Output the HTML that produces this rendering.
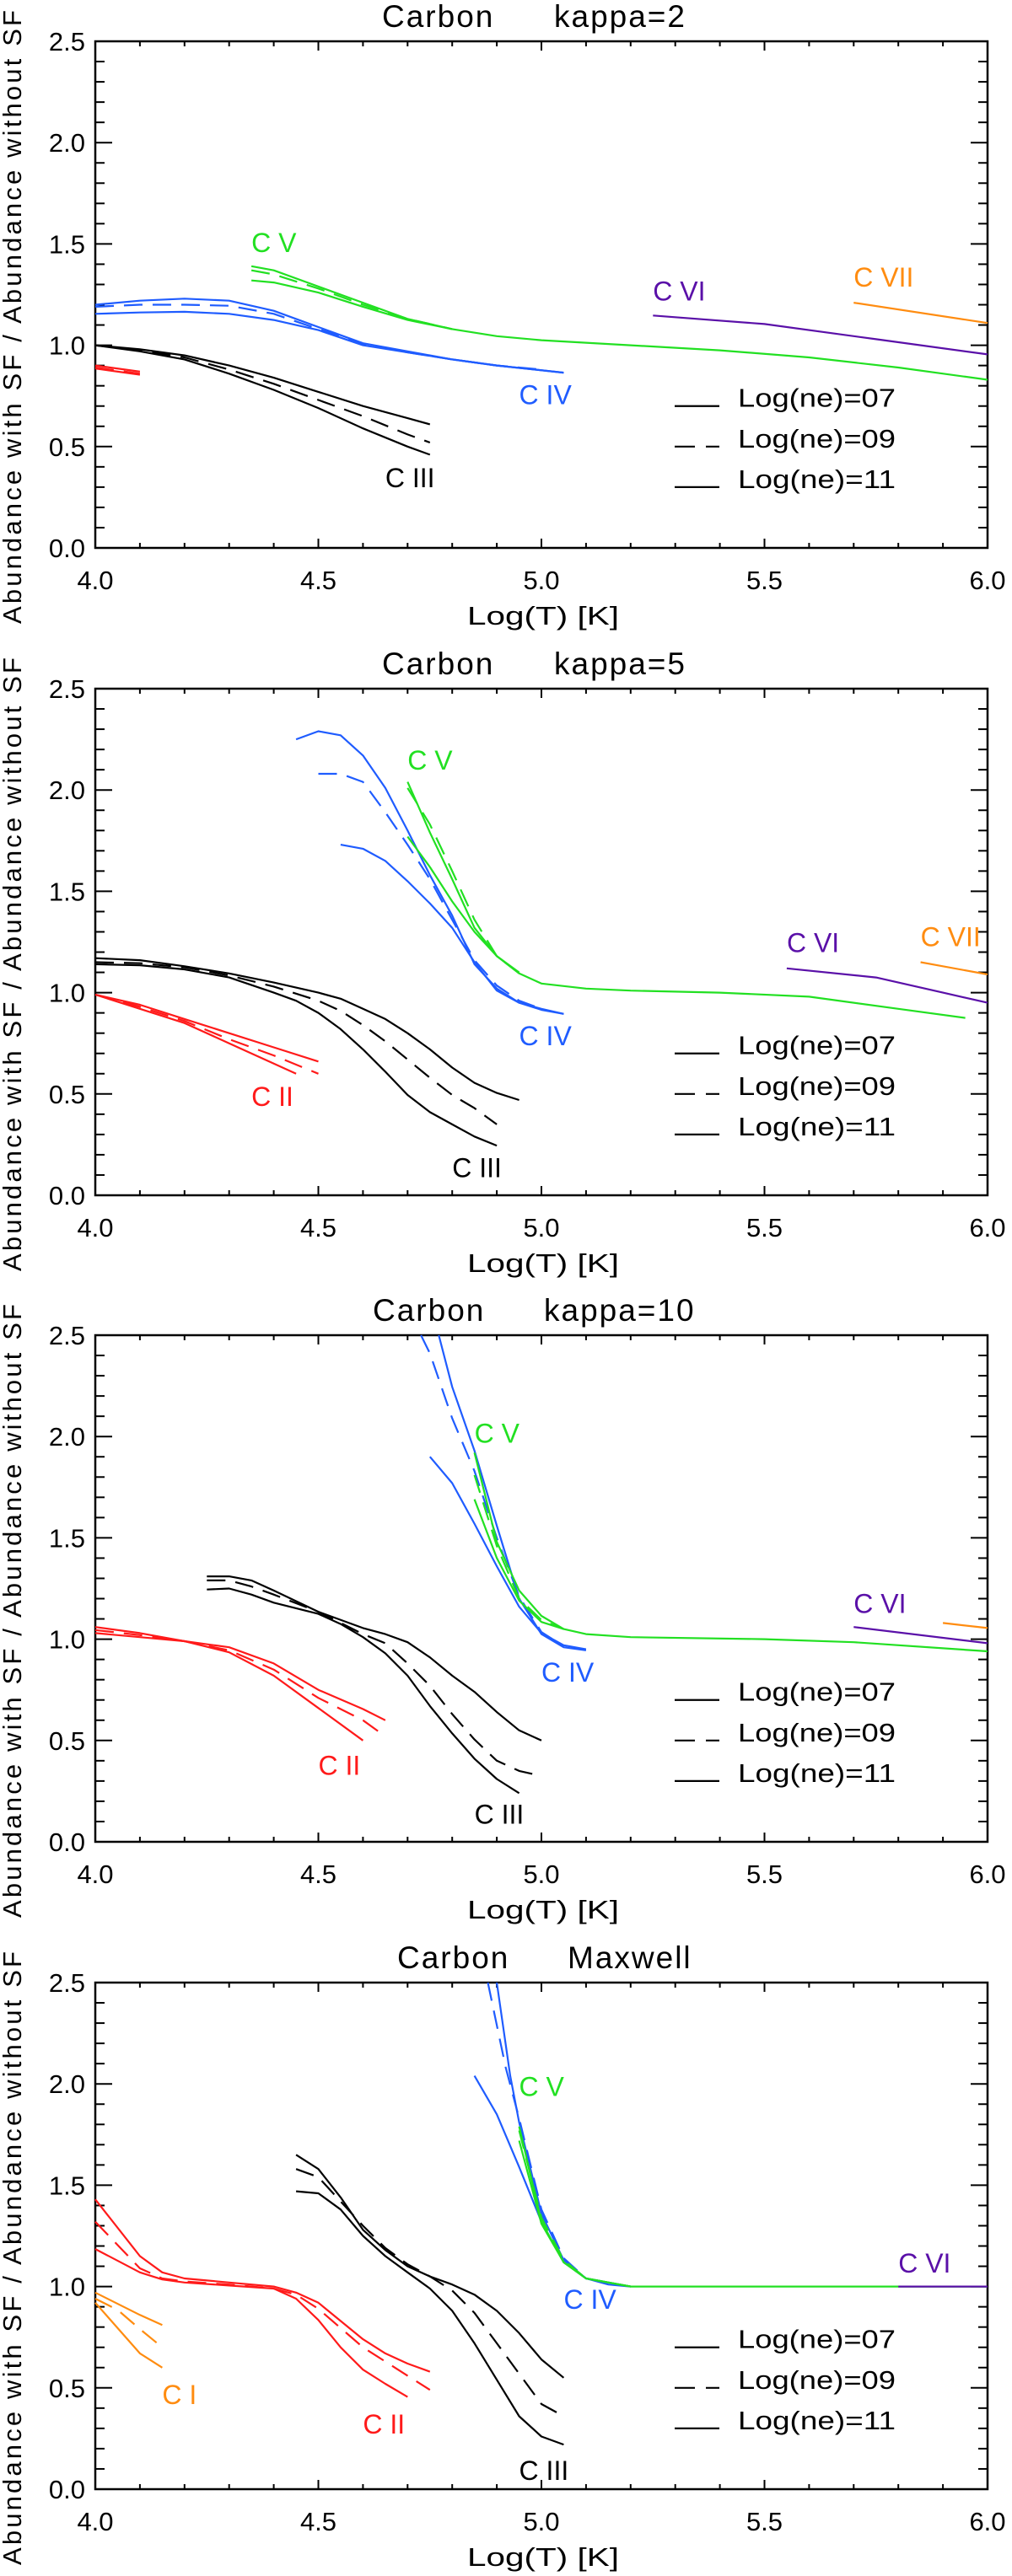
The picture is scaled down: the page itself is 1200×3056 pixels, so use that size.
<!DOCTYPE html>
<html><head><meta charset="utf-8"><title>Carbon abundance ratios</title>
<style>
html,body{margin:0;padding:0;background:#fff;}
svg{display:block;font-family:"Liberation Sans",sans-serif;}
</style></head>
<body>
<svg id="fig" width="1200" height="3056" viewBox="0 0 1200 3056" xmlns="http://www.w3.org/2000/svg"></svg>
<script>
// ---------- data (Log T, ratio) ----------
// Panel 1: kappa=2
const k2_CII_07=[[4.0,0.90],[4.1,0.87]];
const k2_CII_09=[[4.0,0.89],[4.1,0.86]];
const k2_CII_11=[[4.0,0.885],[4.1,0.855]];
const k2_CIII_07=[[4.0,1.0],[4.1,0.98],[4.2,0.95],[4.3,0.90],[4.4,0.84],[4.5,0.77],[4.6,0.70],[4.7,0.64],[4.75,0.61]];
const k2_CIII_09=[[4.0,1.0],[4.1,0.975],[4.2,0.94],[4.3,0.88],[4.4,0.81],[4.5,0.73],[4.6,0.65],[4.7,0.56],[4.75,0.52]];
const k2_CIII_11=[[4.0,1.0],[4.1,0.97],[4.2,0.93],[4.3,0.86],[4.4,0.78],[4.5,0.69],[4.6,0.59],[4.7,0.50],[4.75,0.46]];
const k2_CIV_07=[[4.0,1.20],[4.1,1.22],[4.2,1.23],[4.3,1.22],[4.4,1.17],[4.5,1.09],[4.6,1.01],[4.7,0.97],[4.8,0.93],[4.9,0.90],[5.05,0.865]];
const k2_CIV_09=[[4.0,1.19],[4.1,1.20],[4.2,1.20],[4.3,1.195],[4.4,1.155],[4.5,1.08],[4.6,1.005],[4.7,0.965],[4.8,0.93],[4.9,0.90],[5.0,0.88]];
const k2_CIV_11=[[4.0,1.155],[4.1,1.162],[4.2,1.165],[4.3,1.155],[4.4,1.125],[4.5,1.075],[4.6,1.0],[4.7,0.965],[4.8,0.93],[4.9,0.90],[5.05,0.865]];
const k2_CV_07=[[4.35,1.39],[4.4,1.37],[4.5,1.29],[4.6,1.21],[4.7,1.13],[4.8,1.08],[4.9,1.045],[5.0,1.025],[5.2,1.0],[5.4,0.975],[5.6,0.94],[5.8,0.89],[6.0,0.83]];
const k2_CV_09=[[4.35,1.37],[4.4,1.35],[4.5,1.28],[4.6,1.20],[4.7,1.13],[4.8,1.08]];
const k2_CV_11=[[4.35,1.32],[4.4,1.31],[4.5,1.26],[4.6,1.19],[4.7,1.125],[4.8,1.08]];
const k2_CVI=[[5.25,1.147],[5.5,1.105],[5.75,1.03],[6.0,0.955]];
const k2_CVII=[[5.7,1.21],[6.0,1.11]];
// Panel 2: kappa=5
const k5_CII_07=[[4.0,0.99],[4.1,0.94],[4.2,0.87],[4.3,0.80],[4.4,0.73],[4.5,0.66]];
const k5_CII_09=[[4.0,0.99],[4.1,0.93],[4.2,0.86],[4.3,0.77],[4.4,0.69],[4.5,0.60]];
const k5_CII_11=[[4.0,0.99],[4.1,0.92],[4.2,0.85],[4.3,0.75],[4.4,0.65],[4.45,0.60]];
const k5_CIII_07=[[4.0,1.17],[4.1,1.16],[4.2,1.13],[4.3,1.095],[4.4,1.05],[4.5,1.0],[4.55,0.97],[4.6,0.92],[4.65,0.87],[4.7,0.80],[4.75,0.72],[4.8,0.63],[4.85,0.555],[4.9,0.505],[4.95,0.47]];
const k5_CIII_09=[[4.0,1.15],[4.1,1.145],[4.2,1.125],[4.3,1.085],[4.4,1.03],[4.5,0.96],[4.55,0.91],[4.6,0.84],[4.65,0.76],[4.7,0.67],[4.75,0.58],[4.8,0.495],[4.85,0.43],[4.9,0.35]];
const k5_CIII_11=[[4.0,1.14],[4.1,1.135],[4.2,1.115],[4.3,1.075],[4.4,1.0],[4.45,0.96],[4.5,0.90],[4.55,0.82],[4.6,0.72],[4.65,0.61],[4.7,0.495],[4.75,0.41],[4.8,0.35],[4.85,0.29],[4.9,0.245]];
const k5_CIV_07=[[4.45,2.25],[4.5,2.29],[4.55,2.27],[4.6,2.17],[4.65,2.01],[4.7,1.80],[4.75,1.58],[4.8,1.38],[4.85,1.14],[4.9,1.02],[4.95,0.95],[5.0,0.92],[5.05,0.895]];
const k5_CIV_09=[[4.5,2.08],[4.55,2.08],[4.6,2.04],[4.65,1.89],[4.7,1.73],[4.75,1.56],[4.8,1.36],[4.85,1.16],[4.9,1.035],[4.95,0.96],[5.0,0.92]];
const k5_CIV_11=[[4.55,1.73],[4.6,1.71],[4.65,1.65],[4.7,1.55],[4.75,1.44],[4.8,1.32],[4.85,1.15],[4.9,1.01],[4.95,0.95],[5.0,0.915],[5.05,0.895]];
const k5_CV_07=[[4.7,2.04],[4.75,1.79],[4.8,1.56],[4.85,1.32],[4.9,1.18],[4.95,1.095],[5.0,1.045],[5.1,1.02],[5.2,1.01],[5.4,1.0],[5.6,0.98],[5.8,0.92],[5.95,0.875]];
const k5_CV_09=[[4.7,2.01],[4.75,1.83],[4.8,1.60],[4.85,1.36],[4.9,1.18],[4.95,1.095]];
const k5_CV_11=[[4.7,1.77],[4.75,1.62],[4.8,1.45],[4.85,1.30],[4.9,1.18],[4.95,1.10]];
const k5_CVI=[[5.55,1.12],[5.75,1.075],[5.9,1.0],[6.0,0.95]];
const k5_CVII=[[5.85,1.15],[6.0,1.09]];
// Panel 3: kappa=10
const k10_CII_07=[[4.0,1.06],[4.1,1.03],[4.2,0.99],[4.3,0.96],[4.4,0.88],[4.5,0.75],[4.6,0.655],[4.65,0.60]];
const k10_CII_09=[[4.0,1.045],[4.1,1.02],[4.2,0.99],[4.3,0.945],[4.4,0.85],[4.5,0.71],[4.6,0.60],[4.65,0.52]];
const k10_CII_11=[[4.0,1.03],[4.1,1.01],[4.2,0.99],[4.3,0.935],[4.4,0.82],[4.5,0.66],[4.6,0.50]];
const k10_CIII_07=[[4.25,1.31],[4.3,1.31],[4.35,1.29],[4.4,1.24],[4.5,1.135],[4.6,1.055],[4.65,1.025],[4.7,0.985],[4.75,0.91],[4.8,0.82],[4.85,0.74],[4.9,0.64],[4.95,0.55],[5.0,0.50]];
const k10_CIII_09=[[4.25,1.29],[4.3,1.29],[4.35,1.26],[4.4,1.22],[4.5,1.135],[4.6,1.025],[4.65,0.98],[4.7,0.88],[4.75,0.77],[4.8,0.63],[4.85,0.505],[4.9,0.40],[4.95,0.35],[5.0,0.325]];
const k10_CIII_11=[[4.25,1.245],[4.3,1.25],[4.35,1.22],[4.4,1.18],[4.5,1.125],[4.55,1.075],[4.6,1.01],[4.65,0.93],[4.7,0.82],[4.75,0.67],[4.8,0.535],[4.85,0.41],[4.9,0.31],[4.95,0.24]];
const k10_CIV_07=[[4.77,2.5],[4.8,2.245],[4.85,1.93],[4.9,1.56],[4.95,1.20],[5.0,1.025],[5.05,0.96],[5.1,0.945]];
const k10_CIV_09=[[4.73,2.5],[4.75,2.41],[4.8,2.09],[4.85,1.83],[4.9,1.50],[4.95,1.21],[5.0,1.035],[5.05,0.965]];
const k10_CIV_11=[[4.75,1.90],[4.8,1.77],[4.85,1.57],[4.9,1.36],[4.95,1.16],[5.0,1.03],[5.05,0.97],[5.1,0.95]];
const k10_CV_07=[[4.85,1.92],[4.9,1.48],[4.95,1.24],[5.0,1.115],[5.05,1.05],[5.1,1.025],[5.2,1.01],[5.5,1.0],[5.7,0.985],[6.0,0.94]];
const k10_CV_09=[[4.85,1.81],[4.9,1.46],[4.95,1.20],[5.0,1.095],[5.05,1.05]];
const k10_CV_11=[[4.85,1.69],[4.9,1.40],[4.95,1.19],[5.0,1.085],[5.05,1.05]];
const k10_CVI=[[5.7,1.06],[6.0,0.98]];
const k10_CVII=[[5.9,1.08],[6.0,1.055]];
// Panel 4: Maxwell
const mx_CI_07=[[4.0,0.97],[4.1,0.86],[4.15,0.81]];
const mx_CI_09=[[4.0,0.94],[4.05,0.885],[4.1,0.79],[4.15,0.70]];
const mx_CI_11=[[4.0,0.92],[4.1,0.67],[4.15,0.60]];
const mx_CII_07=[[4.0,1.43],[4.1,1.15],[4.15,1.07],[4.2,1.04],[4.3,1.02],[4.4,1.0],[4.45,0.97],[4.5,0.92],[4.6,0.74],[4.65,0.67],[4.7,0.62],[4.75,0.58]];
const mx_CII_09=[[4.0,1.32],[4.1,1.09],[4.15,1.04],[4.2,1.025],[4.3,1.01],[4.4,0.99],[4.45,0.96],[4.5,0.89],[4.6,0.70],[4.7,0.56],[4.75,0.49]];
const mx_CII_11=[[4.0,1.185],[4.1,1.07],[4.15,1.035],[4.2,1.02],[4.3,1.005],[4.4,0.99],[4.45,0.94],[4.5,0.835],[4.55,0.70],[4.6,0.59],[4.65,0.52],[4.7,0.455]];
const mx_CIII_07=[[4.45,1.65],[4.5,1.58],[4.55,1.44],[4.6,1.28],[4.65,1.18],[4.7,1.10],[4.75,1.05],[4.8,1.01],[4.85,0.96],[4.9,0.88],[4.95,0.77],[5.0,0.64],[5.05,0.55]];
const mx_CIII_09=[[4.45,1.58],[4.5,1.54],[4.55,1.42],[4.6,1.30],[4.65,1.19],[4.7,1.11],[4.75,1.05],[4.8,0.98],[4.85,0.87],[4.9,0.72],[4.95,0.57],[5.0,0.42],[5.05,0.36]];
const mx_CIII_11=[[4.45,1.47],[4.5,1.46],[4.55,1.38],[4.6,1.25],[4.65,1.15],[4.7,1.07],[4.75,0.99],[4.8,0.88],[4.85,0.72],[4.9,0.54],[4.95,0.36],[5.0,0.26],[5.05,0.22]];
const mx_CIV_07=[[4.9,2.5],[4.93,2.04],[4.95,1.81],[5.0,1.36],[5.05,1.13],[5.1,1.04],[5.2,1.0]];
const mx_CIV_09=[[4.88,2.5],[4.92,2.08],[4.95,1.83],[5.0,1.38],[5.05,1.14],[5.1,1.04],[5.2,1.0]];
const mx_CIV_11=[[4.85,2.04],[4.9,1.85],[4.95,1.59],[5.0,1.32],[5.05,1.12],[5.1,1.04],[5.15,1.01],[5.2,1.0]];
const mx_CV_07=[[4.95,1.79],[5.0,1.32],[5.05,1.12],[5.1,1.04],[5.2,1.0],[5.5,1.0],[6.0,1.0]];
const mx_CV_09=[[4.95,1.77],[5.0,1.34],[5.05,1.13],[5.1,1.04],[5.2,1.0]];
const mx_CV_11=[[4.95,1.72],[5.0,1.31],[5.05,1.12],[5.1,1.04],[5.2,1.0]];
const mx_CVI=[[5.8,1.0],[6.0,1.0]];

// tick labels
const xTickLabels=["4.0","4.5","5.0","5.5","6.0"];
const yTickLabels=["0.0","0.5","1.0","1.5","2.0","2.5"];
const legendLabels=["Log(ne)=07","Log(ne)=09","Log(ne)=11"];
const legendY=[0.70,0.50,0.30];

const COL={red:"#ff1a1a",black:"#000",blue:"#1f5cff",green:"#22e022",purple:"#5a10a8",orange:"#ff8c10"};
const DASH="22 12";

const panels=[
 {name:"kappa-2",off:0,t1:"Carbon",t1x:453,t2:"kappa=2",t2x:657,
  series:[[k2_CII_07,"red",0],[k2_CII_09,"red",1],[k2_CII_11,"red",0],
   [k2_CIII_07,"black",0],[k2_CIII_09,"black",1],[k2_CIII_11,"black",0],
   [k2_CIV_07,"blue",0],[k2_CIV_09,"blue",1],[k2_CIV_11,"blue",0],
   [k2_CV_07,"green",0],[k2_CV_09,"green",1],[k2_CV_11,"green",0],
   [k2_CVI,"purple",0],[k2_CVII,"orange",0]],
  labels:[["C  V","green",4.35,1.51],["C  VI","purple",5.25,1.27],["C  VII","orange",5.7,1.34],["C  IV","blue",4.95,0.76],["C  III","black",4.65,0.35]]},
 {name:"kappa-5",off:768,t1:"Carbon",t1x:453,t2:"kappa=5",t2x:657,
  series:[[k5_CII_07,"red",0],[k5_CII_09,"red",1],[k5_CII_11,"red",0],
   [k5_CIII_07,"black",0],[k5_CIII_09,"black",1],[k5_CIII_11,"black",0],
   [k5_CIV_07,"blue",0],[k5_CIV_09,"blue",1],[k5_CIV_11,"blue",0],
   [k5_CV_07,"green",0],[k5_CV_09,"green",1],[k5_CV_11,"green",0],
   [k5_CVI,"purple",0],[k5_CVII,"orange",0]],
  labels:[["C  V","green",4.7,2.15],["C  VI","purple",5.55,1.25],["C  VII","orange",5.85,1.28],["C  IV","blue",4.95,0.79],["C  II","red",4.35,0.49],["C  III","black",4.8,0.14]]},
 {name:"kappa-10",off:1535,t1:"Carbon",t1x:442,t2:"kappa=10",t2x:645,
  series:[[k10_CII_07,"red",0],[k10_CII_09,"red",1],[k10_CII_11,"red",0],
   [k10_CIII_07,"black",0],[k10_CIII_09,"black",1],[k10_CIII_11,"black",0],
   [k10_CIV_07,"blue",0],[k10_CIV_09,"blue",1],[k10_CIV_11,"blue",0],
   [k10_CV_07,"green",0],[k10_CV_09,"green",1],[k10_CV_11,"green",0],
   [k10_CVI,"purple",0],[k10_CVII,"orange",0]],
  labels:[["C  V","green",4.85,2.02],["C  VI","purple",5.7,1.18],["C  IV","blue",5.0,0.84],["C  II","red",4.5,0.38],["C  III","black",4.85,0.14]]},
 {name:"maxwell",off:2303,t1:"Carbon",t1x:471,t2:"Maxwell",t2x:673,
  series:[[mx_CI_07,"orange",0],[mx_CI_09,"orange",1],[mx_CI_11,"orange",0],
   [mx_CII_07,"red",0],[mx_CII_09,"red",1],[mx_CII_11,"red",0],
   [mx_CIII_07,"black",0],[mx_CIII_09,"black",1],[mx_CIII_11,"black",0],
   [mx_CIV_07,"blue",0],[mx_CIV_09,"blue",1],[mx_CIV_11,"blue",0],
   [mx_CV_07,"green",0],[mx_CV_09,"green",1],[mx_CV_11,"green",0],
   [mx_CVI,"purple",0]],
  labels:[["C  V","green",4.95,1.99],["C  IV","blue",5.05,0.94],["C  VI","purple",5.8,1.12],["C  I","orange",4.15,0.47],["C  II","red",4.6,0.325],["C  III","black",4.95,0.095]]}
];

const NS="http://www.w3.org/2000/svg";
const svg=document.getElementById("fig");
const X0=113,X1=1171,TOP=49,BOT=650;
function mk(tag,attrs,parent){const e=document.createElementNS(NS,tag);for(const k in attrs)e.setAttribute(k,attrs[k]);parent.appendChild(e);return e;}

panels.forEach(p=>{
  const g=mk("g",{transform:"translate(0,"+p.off+")"},svg);
  
  
  const sx=v=>X0+(v-4)/2*(X1-X0);
  const sy=v=>BOT-v/2.5*(BOT-TOP);
  // title
  const t1=mk("text",{x:p.t1x,y:32,"font-size":37,"letter-spacing":2},g);t1.textContent=p.t1;
  
  
  const t2=mk("text",{x:p.t2x,y:32,"font-size":37,"letter-spacing":2},g);t2.textContent=p.t2;
  
  
  // ticks
  const ax=mk("g",{stroke:"#000","stroke-width":2},g);
  
  
  for(let i=0;i<=20;i++){const v=4+i*0.1,x=sx(v),L=(i%5==0)?11:6;
    mk("line",{x1:x,y1:BOT,x2:x,y2:BOT-L},ax);mk("line",{x1:x,y1:TOP,x2:x,y2:TOP+L},ax);}
  for(let i=0;i<=25;i++){const v=i*0.1,y=sy(v),L=(i%5==0)?20:11;
    mk("line",{x1:X0,y1:y,x2:X0+L,y2:y},ax);mk("line",{x1:X1,y1:y,x2:X1-L,y2:y},ax);}
  const frame=mk("rect",{x:X0,y:TOP,width:X1-X0,height:BOT-TOP,fill:"none",stroke:"#000","stroke-width":2.5},g);
  
  
  xTickLabels.forEach((s,i)=>{const t=mk("text",{x:sx(4+i*0.5),y:699,"font-size":31,"text-anchor":"middle"},g);t.textContent=s;
    
    });
  yTickLabels.forEach((s,i)=>{const t=mk("text",{x:101,y:sy(i*0.5)+11,"font-size":31,"text-anchor":"end"},g);t.textContent=s;
    
    });
  const xt=mk("text",{x:554,y:741,"font-size":31,textLength:180,lengthAdjust:"spacingAndGlyphs"},g);xt.textContent="Log(T)   [K]";
  
  
  const yt=mk("text",{transform:"translate(25,740) rotate(-90)","font-size":31,textLength:728,lengthAdjust:"spacing"},g);
  yt.textContent="Abundance  with  SF  /  Abundance  without  SF";
  
  
  // series
  p.series.forEach(([d,c,dash])=>{
    const pl=mk("polyline",{points:d.map(q=>sx(q[0]).toFixed(1)+","+sy(q[1]).toFixed(1)).join(" "),fill:"none",stroke:COL[c],"stroke-width":2.2,"stroke-linejoin":"round"},g);
    if(dash)pl.setAttribute("stroke-dasharray",DASH);
    
    
  });
  // ion labels
  p.labels.forEach(([s,c,x,y])=>{
    const t=mk("text",{x:sx(x),y:sy(y)+12,"font-size":32,fill:COL[c]},g);t.textContent=s;
    
    
  });
  // legend
  legendLabels.forEach((s,i)=>{
    const y=sy(legendY[i]);
    const l=mk("line",{x1:800,y1:y,x2:853,y2:y,stroke:"#000","stroke-width":2.2},g);
    if(i==1)l.setAttribute("stroke-dasharray","24 13");
    
    
    const t=mk("text",{x:875,y:y+1,"font-size":31,textLength:187,lengthAdjust:"spacingAndGlyphs"},g);t.textContent=s;
    
    
  });
});
</script>
</body></html>
